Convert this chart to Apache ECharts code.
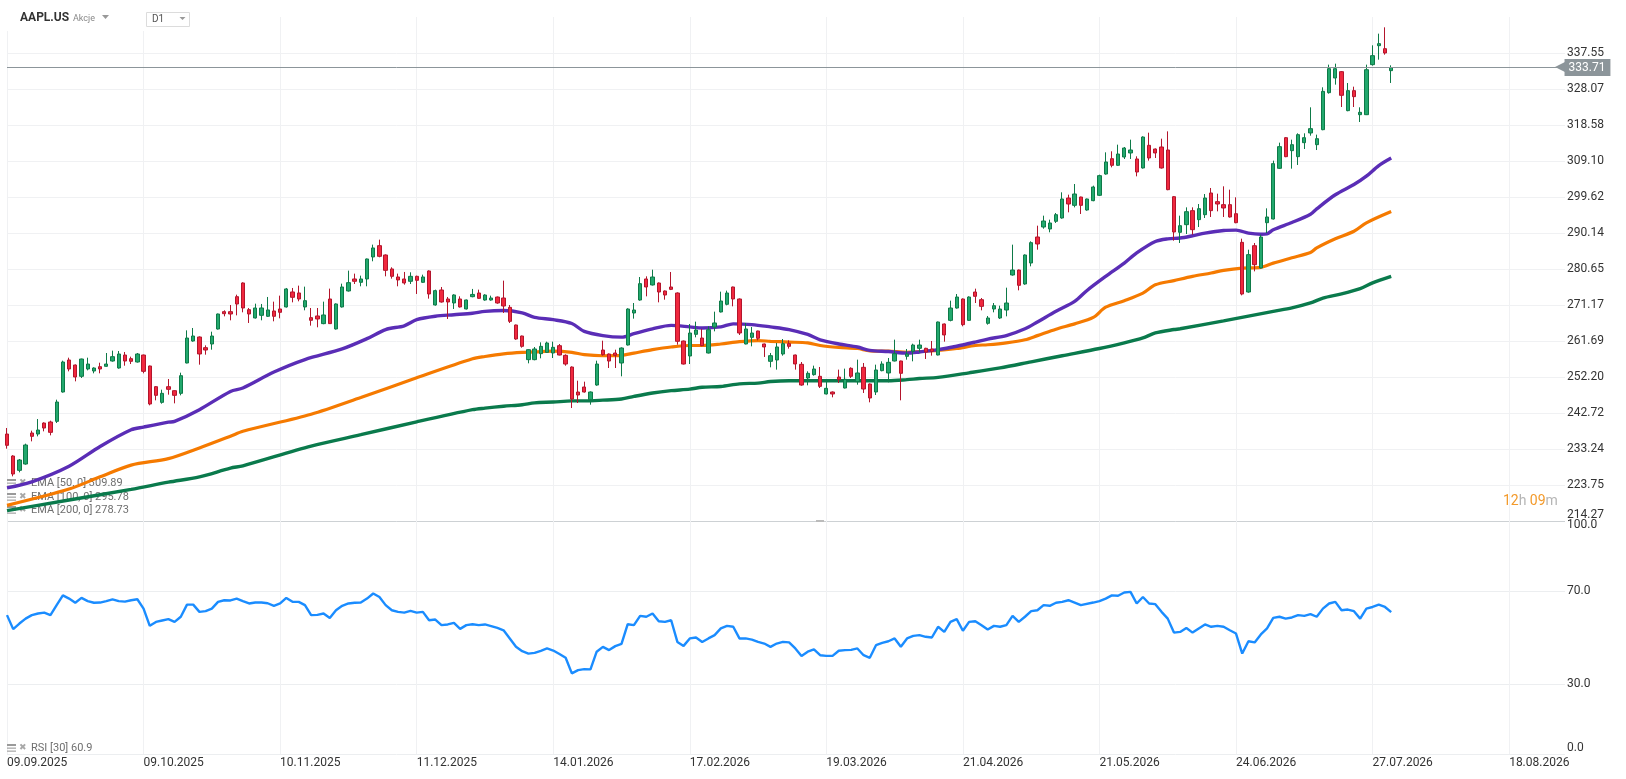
<!DOCTYPE html>
<html><head><meta charset="utf-8">
<script src="https://cdn.jsdelivr.net/npm/echarts@6/dist/echarts.min.js"></script>
<style>html,body{margin:0;padding:0;background:#fff;}#c{width:1626px;height:779px;}</style>
</head><body><div id="c"></div>
<script>
const tickLabels = ['09.09.2025','09.10.2025','10.11.2025','11.12.2025','14.01.2026','17.02.2026','19.03.2026','21.04.2026','21.05.2026','24.06.2026','27.07.2026','18.08.2026'];
const priceTicks = [214.27,223.75,233.24,242.72,252.20,261.69,271.17,280.65,290.14,299.62,309.10,318.58,328.07,337.55];
const rsiTicks = [0,30,70,100];
const lastPrice = 333.71;
const slotCount = 252;

const opens = [
237.18,231.39,227.61,229.28,237.45,237.18,240.08,240.35,240.52,248.25,
256.68,255.36,252.38,254.31,253.78,254.92,255.01,256.41,254.57,257.99,
257.03,256.15,257.99,255.10,249.65,245.52,249.65,248.60,247.90,255.89,
261.68,262.74,259.93,260.89,264.84,269.41,269.41,273.36,276.97,269.94,
267.75,268.45,268.19,269.59,270.12,270.65,274.60,274.34,270.65,267.84,
268.28,266.26,272.75,264.85,270.65,274.86,278.02,277.14,278.02,283.82,
286.80,284.34,280.66,278.55,278.02,277.41,278.72,277.14,280.13,271.17,
275.12,272.75,271.70,272.75,270.12,273.36,274.33,272.48,272.48,273.27,
273.01,270.55,265.90,263.00,256.77,256.77,258.35,258.70,258.52,260.45,
257.91,254.83,248.25,249.57,246.23,250.09,259.31,258.26,258.52,255.89,
260.63,269.06,272.48,278.02,276.44,276.96,274.86,275.91,274.33,261.68,
257.73,263.44,262.47,258.52,265.38,269.33,271.35,275.91,272.75,260.90,
262.65,264.32,260.90,256.33,256.68,258.26,260.99,258.00,255.54,251.94,
252.82,252.38,247.73,248.25,252.20,249.30,254.49,250.97,254.75,250.36,
248.25,253.87,253.26,256.42,256.42,257.65,258.96,259.76,259.76,259.58,
258.00,266.17,267.12,270.37,272.75,267.12,274.59,272.57,266.34,270.11,
267.74,269.85,279.07,280.38,276.70,282.23,289.08,291.71,291.19,293.21,
294.08,299.35,297.42,299.61,296.19,298.65,300.06,305.67,309.71,307.96,
310.15,311.21,309.63,307.26,313.23,312.26,312.79,312.00,299.70,290.31,
292.33,296.02,293.65,294.96,300.67,298.39,297.60,297.60,295.22,287.67,
274.59,286.79,280.91,292.85,293.82,307.17,315.24,311.82,310.24,313.93,
316.48,313.40,317.35,327.10,330.96,332.63,322.36,327.63,321.30,321.30,
334.48,339.48,338.69,332.90];
const closes = [
234.20,226.65,230.34,234.29,236.57,238.24,238.76,237.62,245.61,256.15,
254.31,252.20,256.94,255.62,254.57,254.31,255.62,257.56,258.26,256.41,
256.33,258.26,253.69,245.09,247.37,247.90,248.95,247.37,252.55,262.47,
263.00,258.26,259.31,263.00,268.80,268.88,268.80,271.43,270.38,268.80,
270.38,270.38,269.86,268.19,269.24,275.39,273.19,272.75,272.31,267.13,
267.48,268.54,266.26,271.44,275.91,277.06,277.41,278.02,283.29,286.19,
283.99,280.30,278.72,277.76,276.97,278.72,277.67,278.55,274.07,274.95,
271.96,271.96,273.81,270.65,272.49,273.95,272.92,273.80,273.01,271.69,
270.90,266.86,262.21,260.28,259.40,259.58,260.28,261.16,260.02,257.99,
255.62,246.40,247.46,248.25,248.25,255.62,258.08,256.41,257.91,259.84,
270.11,269.85,276.79,275.91,278.54,274.59,273.80,275.29,261.60,255.62,
263.79,264.58,260.45,264.67,266.43,272.22,274.33,272.75,263.79,264.85,
263.79,262.39,260.11,257.82,260.11,260.99,260.28,255.63,250.09,253.17,
254.31,249.74,249.22,247.73,251.49,251.59,252.38,253.26,249.04,246.67,
254.05,255.63,256.07,258.35,253.17,258.26,260.63,260.63,258.79,258.96,
266.69,263.27,270.37,273.27,265.99,273.27,273.45,270.81,267.74,270.99,
270.11,271.69,280.38,276.35,284.34,287.59,287.24,293.29,292.77,294.96,
299.09,297.77,300.41,297.42,299.09,302.25,305.24,308.84,307.96,310.94,
312.52,312.00,306.20,315.42,309.89,311.21,307.26,301.55,290.40,292.06,
295.75,291.01,296.54,299.35,296.02,297.77,296.72,294.35,292.85,274.06,
284.43,281.79,289.08,294.35,308.40,312.88,310.24,313.40,316.04,315.24,
317.62,314.98,327.45,333.42,333.42,326.40,327.63,326.05,321.92,333.15,
336.85,340.01,337.55,333.71];
const lows = [
233.32,226.03,227.09,229.10,235.25,236.57,237.89,236.83,240.08,248.10,
253.69,251.06,251.94,253.95,253.17,253.17,254.90,256.24,254.40,255.18,
255.62,256.00,253.17,244.74,246.05,245.17,247.55,245.26,247.37,255.80,
261.50,255.45,258.08,259.40,264.70,268.18,267.13,268.44,269.24,266.43,
267.60,267.13,268.01,266.87,267.66,270.50,271.87,272.14,269.77,265.73,
265.29,266.10,266.17,264.70,270.50,274.70,276.70,276.09,276.09,282.68,
283.73,278.72,278.11,276.09,276.53,276.70,274.07,277.00,272.84,271.00,
271.80,267.48,270.12,270.50,270.00,273.20,272.80,272.30,272.30,271.50,
269.06,266.42,262.00,259.93,255.80,256.60,257.12,258.60,257.20,257.90,
255.18,244.03,245.35,248.10,244.91,249.90,257.82,254.57,254.57,252.38,
260.50,267.57,272.30,273.45,276.30,271.87,272.57,275.10,260.72,255.50,
255.62,262.65,260.30,258.40,264.23,269.20,271.08,270.82,263.27,260.80,
260.28,261.86,257.48,254.75,254.14,257.82,259.67,254.14,249.90,250.01,
252.55,249.30,247.60,246.85,250.62,249.20,251.94,250.18,247.99,245.53,
247.46,253.70,250.80,256.30,246.06,256.77,256.33,258.70,256.95,257.82,
257.90,261.51,266.86,270.20,265.55,267.00,271.69,269.76,265.99,269.24,
267.48,268.18,278.90,275.03,276.50,281.35,285.74,291.27,290.31,292.77,
293.90,295.58,296.89,295.14,296.00,298.50,299.88,305.50,307.43,307.80,
309.63,309.63,305.06,307.10,309.19,309.89,307.10,301.40,288.11,287.50,
289.87,289.69,291.71,294.08,294.35,295.84,294.35,294.20,292.70,273.71,
274.40,280.03,280.80,290.13,293.70,307.00,310.10,307.08,308.05,312.26,
315.77,311.99,317.20,326.84,329.21,323.32,322.20,323.32,319.37,321.20,
334.21,335.79,337.11,329.65];
const highs = [
238.77,231.60,230.60,234.64,238.06,241.13,240.26,240.70,246.23,256.50,
257.29,255.50,257.03,257.29,254.75,255.97,258.52,259.14,259.05,258.79,
257.56,258.52,258.10,255.20,249.80,248.86,251.67,248.70,253.34,264.49,
265.11,262.90,260.54,264.14,268.90,269.76,271.17,273.89,277.14,270.38,
271.52,271.44,273.28,272.05,273.63,275.65,275.65,276.27,276.00,270.38,
270.38,272.05,275.48,271.60,276.79,280.22,279.43,278.90,283.40,287.07,
288.38,284.50,281.10,279.43,279.87,279.78,278.90,279.16,280.30,275.21,
275.91,273.28,274.00,273.45,272.60,275.40,275.21,274.00,273.63,273.40,
277.58,271.17,266.00,263.10,259.50,260.10,261.33,261.51,261.51,260.89,
258.17,255.00,251.23,250.97,248.40,256.50,261.77,258.40,259.40,260.00,
270.30,271.69,278.54,278.72,280.47,277.10,275.00,279.86,274.50,261.80,
266.16,266.78,264.85,265.55,269.41,274.68,274.95,276.00,272.90,266.43,
265.37,264.40,261.00,258.53,261.16,262.21,261.86,258.10,256.15,253.70,
255.19,254.84,251.68,248.40,254.14,254.40,254.75,256.77,255.89,250.50,
255.45,256.33,257.21,262.04,256.50,259.58,260.98,262.04,259.90,261.69,
266.80,266.30,272.31,274.06,272.90,273.45,275.47,273.01,268.27,271.69,
270.99,275.73,287.06,280.50,284.50,287.94,292.06,294.70,293.64,295.40,
300.85,300.23,303.04,299.70,299.20,302.60,305.50,311.38,311.65,313.40,
312.79,314.72,310.33,315.60,316.56,312.40,314.98,316.91,299.88,294.70,
296.89,296.89,297.77,300.40,301.99,300.49,302.43,301.55,299.53,288.64,
285.74,287.50,289.69,296.63,309.19,313.93,315.40,314.72,316.39,316.39,
323.24,316.04,328.51,334.48,334.74,332.80,329.64,328.68,323.24,334.48,
339.57,342.64,344.31,334.30];

const ema50 = [[0,223.0],[4,224.6],[10,228.7],[15,233.9],[20,238.3],[22,239.0],[26,240.3],[27,240.5],[31,243.6],[36,248.4],[38,249.3],[43,253.5],[48,256.8],[54,259.6],[58,262.3],[61,264.7],[64,265.7],[66,267.3],[69,268.2],[72,268.6],[75,269.0],[77,269.5],[80,269.7],[83,269.1],[85,267.9],[88,267.3],[91,266.3],[93,264.2],[96,263.1],[99,262.7],[101,263.6],[104,264.9],[107,265.8],[110,265.4],[112,265.1],[115,265.4],[117,266.2],[120,266.0],[123,265.4],[126,264.7],[129,263.4],[131,262.0],[134,260.9],[137,260.1],[139,259.2],[142,258.9],[145,258.5],[147,258.8],[150,259.4],[153,260.3],[156,261.4],[158,262.2],[161,263.1],[164,264.9],[166,266.7],[169,269.5],[172,272.1],[174,275.0],[177,278.7],[180,282.2],[182,284.9],[185,287.9],[187,288.6],[189,288.8],[191,289.4],[193,290.1],[196,290.8],[198,290.9],[200,290.1],[202,289.8],[203,289.9],[204,291.0],[207,292.9],[210,295.1],[211,296.5],[214,300.2],[217,302.9],[219,305.1],[221,307.9],[223,309.89]];
const ema100 = [[0,218.4],[10,222.7],[15,225.9],[20,229.0],[26,230.7],[31,233.5],[36,236.6],[38,237.9],[49,242.4],[57,246.8],[66,252.0],[75,257.0],[77,257.6],[80,258.3],[83,258.7],[85,258.8],[88,259.0],[91,258.7],[93,258.1],[96,257.8],[99,257.9],[101,258.5],[104,259.4],[107,260.1],[110,260.5],[112,260.5],[115,260.9],[118,261.5],[121,261.8],[123,261.6],[126,261.4],[129,261.2],[131,260.5],[134,260.0],[137,259.7],[139,259.1],[142,259.0],[145,258.7],[147,258.9],[150,259.2],[153,259.7],[156,260.5],[158,260.7],[161,261.2],[164,262.0],[166,263.1],[169,264.8],[172,266.2],[175,267.9],[177,270.6],[180,272.3],[183,274.3],[185,276.5],[188,277.6],[191,278.7],[194,279.6],[196,280.3],[199,280.9],[202,281.1],[204,282.2],[207,283.6],[210,285.0],[211,286.2],[214,288.6],[217,290.6],[219,292.8],[223,295.78]];
const ema200 = [[0,217.0],[10,219.8],[20,222.6],[26,224.5],[31,225.9],[36,228.2],[38,228.8],[49,234.0],[57,237.0],[66,240.4],[75,243.6],[77,244.0],[80,244.5],[83,244.9],[85,245.4],[88,245.6],[91,245.9],[93,245.9],[96,246.1],[99,246.4],[101,247.1],[104,248.0],[107,248.6],[110,249.0],[112,249.5],[115,249.7],[118,250.4],[121,250.6],[123,251.0],[126,251.2],[134,251.2],[142,251.2],[145,251.5],[147,251.8],[150,252.1],[155,253.3],[160,254.6],[165,256.2],[170,257.8],[176,259.7],[180,261.2],[183,262.5],[185,263.8],[188,264.7],[189,264.9],[196,267.0],[204,269.5],[207,270.4],[210,271.7],[212,273.0],[215,274.1],[218,275.5],[220,277.0],[223,278.73]];
const rsi30 = [[0,59.6],[1,53.6],[2,56.0],[3,58.1],[4,59.6],[5,60.3],[6,60.7],[7,59.6],[8,63.9],[9,68.1],[10,66.7],[11,64.9],[12,67.0],[13,65.6],[14,64.9],[15,65.0],[16,65.6],[17,66.4],[18,65.6],[19,65.4],[20,66.0],[21,66.4],[22,62.4],[23,55.0],[24,56.7],[25,57.3],[26,57.9],[27,56.7],[28,58.9],[29,64.1],[30,64.1],[31,61.0],[32,61.3],[33,62.4],[34,65.3],[35,66.0],[36,65.9],[37,66.7],[38,65.6],[39,64.6],[40,65.0],[41,65.0],[42,64.7],[43,63.6],[44,64.6],[45,67.0],[46,65.3],[47,65.3],[48,63.9],[49,59.6],[50,59.7],[51,60.3],[52,58.4],[53,61.7],[54,63.6],[55,64.6],[56,64.9],[57,65.0],[58,66.7],[59,68.9],[60,67.4],[61,63.9],[62,61.7],[63,61.0],[64,60.7],[65,61.4],[66,60.7],[67,61.0],[68,57.4],[69,57.7],[70,55.3],[71,55.6],[72,56.3],[73,53.7],[74,55.3],[75,55.7],[76,55.3],[77,55.6],[78,54.9],[79,54.1],[80,53.1],[81,49.6],[82,46.0],[83,44.1],[84,43.1],[85,43.4],[86,44.3],[87,45.3],[88,44.4],[89,42.9],[90,41.3],[91,34.6],[92,36.0],[93,36.4],[94,36.3],[95,43.9],[96,46.0],[97,44.6],[98,46.3],[99,47.3],[100,55.7],[101,55.3],[102,59.3],[103,58.9],[104,60.3],[105,57.0],[106,56.7],[107,57.4],[108,48.1],[109,46.4],[110,49.6],[111,50.0],[112,48.1],[113,49.6],[114,51.0],[115,53.9],[116,55.0],[117,54.6],[118,49.6],[119,49.6],[120,49.1],[121,48.1],[122,47.4],[123,46.0],[124,47.4],[125,48.1],[126,47.9],[127,45.3],[128,42.1],[129,43.9],[130,44.9],[131,42.4],[132,42.1],[133,42.1],[134,44.3],[135,44.6],[136,44.7],[137,45.3],[138,42.4],[139,41.3],[140,46.7],[141,47.7],[142,48.4],[143,49.6],[144,46.0],[145,49.6],[146,50.7],[147,51.0],[148,50.3],[149,50.0],[150,54.6],[151,52.4],[152,56.7],[153,57.9],[154,52.9],[155,56.7],[156,57.0],[157,55.3],[158,53.4],[159,55.0],[160,54.6],[161,55.3],[162,59.3],[163,56.7],[164,58.9],[165,61.3],[166,61.7],[167,63.9],[168,63.6],[169,64.9],[170,65.3],[171,66.0],[172,65.0],[173,63.9],[175,65.0],[176,65.6],[177,66.7],[178,68.1],[179,67.9],[180,69.3],[181,69.6],[182,64.6],[183,67.4],[184,64.6],[185,64.3],[186,61.0],[187,58.1],[188,52.1],[189,52.4],[190,54.1],[191,52.1],[192,53.9],[193,55.6],[194,54.6],[195,55.0],[196,54.6],[197,53.1],[198,51.7],[199,43.1],[200,48.4],[201,47.9],[202,51.3],[203,53.9],[204,58.4],[205,58.9],[206,58.1],[207,58.6],[208,59.6],[209,59.3],[210,60.0],[211,58.9],[212,62.4],[213,64.6],[214,65.3],[215,61.7],[216,62.0],[217,61.3],[218,58.1],[219,62.4],[220,63.1],[221,64.1],[222,63.1],[223,60.9]];

const slots = Array.from({length: slotCount}, (_, i) => String(i));
const candles = opens.map((o, i) => [o, closes[i], lows[i], highs[i]]);
const FONT = 'Roboto';
const GRID_C = '#f0f1f3';

function priceLabel(v) {
  for (let i = 0; i < priceTicks.length; i++) {
    if (Math.abs(priceTicks[i] - v) < 0.03) {
      const t = priceTicks[i].toFixed(2);
      return i === 0 ? '{lo|' + t + '}' : t;
    }
  }
  return '';
}
function rsiLabel(v) {
  for (const t of rsiTicks) {
    if (Math.abs(t - v) < 0.01) {
      const s = t.toFixed(1);
      if (t === 100) return '{hi|' + s + '}';
      if (t === 0) return '{lo|' + s + '}';
      return s;
    }
  }
  return '';
}
const rsiLineColors = [];
for (let v = 0; v <= 100; v += 10) {
  rsiLineColors.push(v === 100 ? '#cdd1d4' : (v === 0 || v === 30 || v === 70) ? '#eceef0' : 'rgba(0,0,0,0)');
}
const labelBase = { color: '#333', fontSize: 12, fontFamily: FONT };

function legendRow(y, text) {
  return [
    { type: 'rect', x: 7, y: y - 4, shape: { width: 9, height: 2 }, style: { fill: '#9a9a9a' }, z: 1 },
    { type: 'rect', x: 7, y: y - 0.5, shape: { width: 9, height: 1.3 }, style: { fill: '#aaaaaa' }, z: 1 },
    { type: 'rect', x: 7, y: y + 2.5, shape: { width: 9, height: 1.3 }, style: { fill: '#aaaaaa' }, z: 1 },
    { type: 'text', x: 19, y: y, style: { text: '✖', fill: '#a8a8a8', font: '9px DejaVu Sans', verticalAlign: 'middle' }, z: 1 },
    { type: 'text', x: 31, y: y, style: { text: text, fill: '#6f6f6f', font: '11px ' + FONT, verticalAlign: 'middle' }, z: 1 }
  ];
}

const chart = echarts.init(document.getElementById('c'), null, { renderer: 'canvas' });
chart.setOption({
  animation: false,
  backgroundColor: '#fff',
  grid: [
    { left: 7, right: 61, top: 17, height: 504 },
    { left: 7, right: 61, top: 521, height: 233 }
  ],
  xAxis: [
    { type: 'category', gridIndex: 0, data: slots, boundaryGap: false,
      axisLine: { show: false }, axisTick: { show: false }, axisLabel: { show: false },
      splitLine: { show: true, interval: 21, lineStyle: { color: GRID_C, width: 1 } } },
    { type: 'category', gridIndex: 1, data: slots, boundaryGap: false,
      axisLine: { show: false }, axisTick: { show: false },
      axisLabel: Object.assign({ show: true, interval: 21, align: 'left', margin: 3,
        formatter: (v, idx) => { const k = idx / 22; return (Number.isInteger(k) && tickLabels[k]) ? tickLabels[k] : ''; } }, labelBase),
      splitLine: { show: true, interval: 21, lineStyle: { color: GRID_C, width: 1 } } }
  ],
  yAxis: [
    { type: 'value', gridIndex: 0, position: 'right', min: priceTicks[0], max: 347.03,
      interval: (priceTicks[13] - priceTicks[0]) / 13,
      axisLine: { show: false }, axisTick: { show: false },
      splitLine: { show: true, showMaxLine: false, lineStyle: { color: GRID_C, width: 1 } },
      axisLabel: Object.assign({ margin: 2, formatter: priceLabel,
        rich: { lo: Object.assign({ padding: [0, 0, 12, 0] }, labelBase) } }, labelBase) },
    { type: 'value', gridIndex: 1, position: 'right', min: 0, max: 100, interval: 10,
      axisLine: { show: false }, axisTick: { show: false },
      splitLine: { show: true, lineStyle: { color: rsiLineColors, width: 1 } },
      axisLabel: Object.assign({ margin: 2, formatter: rsiLabel,
        rich: { hi: Object.assign({ padding: [8, 0, 0, 0] }, labelBase), lo: Object.assign({ padding: [0, 0, 12, 0] }, labelBase) } }, labelBase) }
  ],
  series: [
    { name: 'EMA200', type: 'line', xAxisIndex: 0, yAxisIndex: 0, data: ema200, showSymbol: false, smooth: 0.3,
      lineStyle: { color: '#0a7a4c', width: 3.4 }, z: 2, silent: true },
    { name: 'EMA100', type: 'line', xAxisIndex: 0, yAxisIndex: 0, data: ema100, showSymbol: false, smooth: 0.3,
      lineStyle: { color: '#f57a00', width: 3.2 }, z: 2, silent: true },
    { name: 'EMA50', type: 'line', xAxisIndex: 0, yAxisIndex: 0, data: ema50, showSymbol: false, smooth: 0.3,
      lineStyle: { color: '#5a2db6', width: 3.4 }, z: 2, silent: true },
    { name: 'AAPL.US', type: 'candlestick', xAxisIndex: 0, yAxisIndex: 0, data: candles, clip: false,
      barWidth: 3.8, z: 3,
      itemStyle: { color: '#22a86d', color0: '#f0283e', borderColor: '#0e7a48', borderColor0: '#b3152c', borderWidth: 1 },
      markLine: { silent: true, symbol: ['none', 'none'], animation: false,
        lineStyle: { color: '#8c959a', width: 1, type: 'solid' },
        label: { show: true, position: 'end', distance: -10,
          formatter: '{a|◀}{b|' + lastPrice.toFixed(2) + '}',
          rich: { a: { color: '#8c959a', fontSize: 15, fontFamily: 'DejaVu Sans', padding: [0, -2, 0, 0] },
                  b: { color: '#fff', backgroundColor: '#8c959a', fontSize: 12, fontFamily: FONT, padding: [3, 5, 2, 4] } } },
        data: [{ yAxis: lastPrice }] } },
    { name: 'RSI', type: 'line', xAxisIndex: 1, yAxisIndex: 1, data: rsi30, showSymbol: false,
      lineStyle: { color: '#1a8cff', width: 2.4 }, z: 2, silent: true }
  ],
  graphic: [
    { type: 'rect', x: 0, y: 0, shape: { width: 265, height: 31 }, style: { fill: '#fff' }, z: 50 },
    { type: 'text', x: 20, y: 18, style: { text: 'AAPL.US', fill: '#333', font: 'bold 12px ' + FONT, verticalAlign: 'middle' }, z: 51 },
    { type: 'text', x: 73, y: 19, style: { text: 'Akcje', fill: '#888', font: '9px ' + FONT, verticalAlign: 'middle' }, z: 51 },
    { type: 'polygon', shape: { points: [[102, 15], [109, 15], [105.5, 19]] }, style: { fill: '#999' }, z: 51 },
    { type: 'rect', x: 146.5, y: 12.5, shape: { width: 43, height: 14 }, style: { fill: '#fff', stroke: '#dcdcdc', lineWidth: 1 }, z: 51 },
    { type: 'text', x: 152, y: 19.5, style: { text: 'D1', fill: '#555', font: '10px ' + FONT, verticalAlign: 'middle' }, z: 52 },
    { type: 'polygon', shape: { points: [[179.5, 17], [185.5, 17], [182.5, 20]] }, style: { fill: '#999' }, z: 52 },
    { type: 'rect', x: 816, y: 520, shape: { width: 8, height: 2 }, style: { fill: '#bbb' }, z: 5 },
    { type: 'text', x: 1503, y: 501, style: { text: '{o|12}{g|h} {o|09}{g|m}', verticalAlign: 'middle',
      rich: { o: { fill: '#f39a2b', font: '14px ' + FONT }, g: { fill: '#b5b5b5', font: '14px ' + FONT } } }, z: 5 }
  ].concat(legendRow(483, 'EMA [50, 0] 309.89'), legendRow(497, 'EMA [100, 0] 295.78'), legendRow(510, 'EMA [200, 0] 278.73'), legendRow(748, 'RSI [30] 60.9'))
});
</script></body></html>
